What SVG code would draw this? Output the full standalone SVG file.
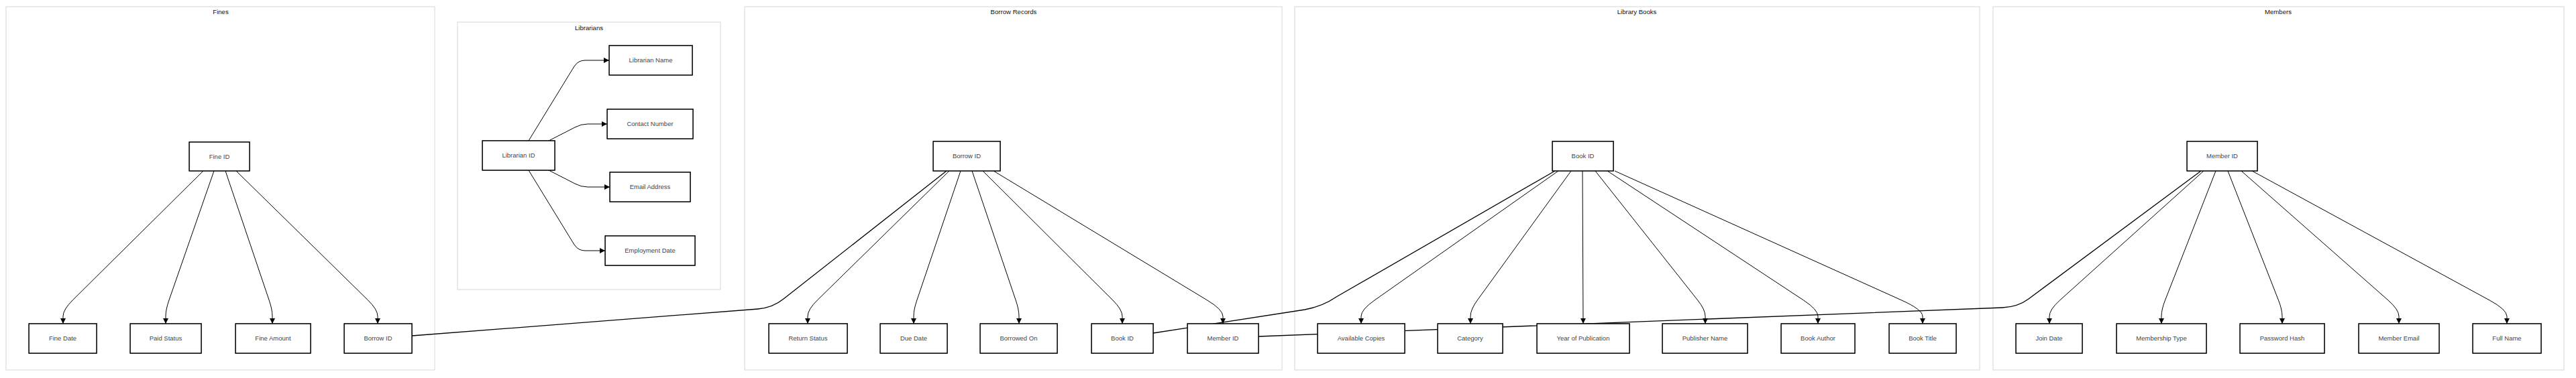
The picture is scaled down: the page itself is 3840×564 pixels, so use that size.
<svg xmlns="http://www.w3.org/2000/svg" width="3840" height="564" viewBox="0 0 3840 564">
<style>
.cl{fill:#ffffff;stroke:#e4e4e4;stroke-width:1.5}
.ct{font-family:"Liberation Sans",Arial,sans-serif;font-size:9.6px;fill:#111;text-anchor:middle}
.nb{fill:#ffffff;stroke:#000;stroke-width:1.4}
.nb2{fill:none;stroke:#000;stroke-width:0.5}
.nt{font-family:"Liberation Sans",Arial,sans-serif;font-size:9.5px;fill:#444;text-anchor:middle}
.e{fill:none;stroke:#000;stroke-width:1}
.ea{fill:none;stroke:#000;stroke-width:1;marker-end:url(#ah)}
.x{fill:none;stroke:#000;stroke-width:1.3}
</style>
<defs>
<marker id="ah" markerUnits="userSpaceOnUse" markerWidth="8" markerHeight="8" refX="8" refY="4" orient="auto">
<path d="M0,0 L8,4 L0,8 z" fill="#000"/>
</marker>
</defs>
<rect width="3840" height="564" fill="#ffffff"/>

<g id="cluster-fines"><rect class="cl" x="9" y="10" width="639" height="542"/><text class="ct" x="329" y="20.5">Fines</text></g>
<g id="cluster-librarians"><rect class="cl" x="682" y="33" width="392" height="399"/><text class="ct" x="878" y="44.5">Librarians</text></g>
<g id="cluster-borrow"><rect class="cl" x="1110" y="10" width="801" height="542"/><text class="ct" x="1511" y="20.5">Borrow Records</text></g>
<g id="cluster-books"><rect class="cl" x="1930" y="10" width="1021" height="542"/><text class="ct" x="2440" y="20.5">Library Books</text></g>
<g id="cluster-members"><rect class="cl" x="2971" y="10" width="851" height="542"/><text class="ct" x="3396" y="20.5">Members</text></g>

<g id="connectors">
<path class="ea" d="M303 255 L108.2 448 Q94 462 94 472 L94 483"/>
<path class="ea" d="M319 255 L251.9 448 Q247 462 247 472 L247 483"/>
<path class="ea" d="M336 255 L401.2 448 Q406 462 406 472 L406 483"/>
<path class="ea" d="M352 255 L548.7 448 Q563 462 563 472 L563 483"/>

<path class="ea" d="M788 210 L856 99 Q862 90 872 90 L908 90"/>
<path class="ea" d="M818 210 L857 190 Q866 185 876 185 L905 185"/>
<path class="ea" d="M818 254 L857 274 Q866 279 876 279 L909 279"/>
<path class="ea" d="M788 254 L856 365 Q862 374 872 374 L902 374"/>

<path class="ea" d="M1415 255 L1218.3 448 Q1204 462 1204 472 L1204 483"/>
<path class="ea" d="M1432 255 L1366.8 448 Q1362 462 1362 472 L1362 483"/>
<path class="ea" d="M1449 255 L1514.2 448 Q1519 462 1519 472 L1519 483"/>
<path class="ea" d="M1465 255 L1658.9 448 Q1673 462 1673 472 L1673 483"/>
<path class="ea" d="M1481 255 L1799.7 448 Q1823 462 1823 472 L1823 483"/>

<path class="ea" d="M2323 255 L2049 448 Q2029 462 2029 472 L2029 483"/>
<path class="ea" d="M2342 255 L2202.2 448 Q2192 462 2192 472 L2192 483"/>
<path class="ea" d="M2359 255 L2360 483"/>
<path class="ea" d="M2378 255 L2530.8 448 Q2542 462 2542 472 L2542 483"/>
<path class="ea" d="M2396 255 L2688.6 448 Q2710 462 2710 472 L2710 483"/>
<path class="ea" d="M2407 255 L2834.8 448 Q2866 462 2866 472 L2866 483"/>

<path class="ea" d="M3285 255 L3070.6 448 Q3055 462 3055 472 L3055 483"/>
<path class="ea" d="M3303 255 L3227.5 448 Q3222 462 3222 472 L3222 483"/>
<path class="ea" d="M3321 255 L3396.5 448 Q3402 462 3402 472 L3402 483"/>
<path class="ea" d="M3341 255 L3560 448 Q3576 462 3576 472 L3576 483"/>
<path class="ea" d="M3357 255 L3711.2 448 Q3737 462 3737 472 L3737 483"/>

<path class="x" d="M1411 255 L1168 446 Q1152 459 1130 461 L614 501"/>
<path class="x" d="M2318 255 L1992 443 Q1972 457 1945 462 L1719 497"/>
<path class="x" d="M3281 255 L3024 446 Q3008 458 2985 459 L1876 502"/>
</g>

<g id="n-fine-id"><rect class="nb" x="282" y="212" width="90" height="43"/><rect class="nb2" x="282.8" y="211.4" width="89.6" height="43.8"/><text class="nt" x="327" y="236.8">Fine ID</text></g>
<g id="n-fine-date"><rect class="nb" x="43" y="483" width="101" height="44"/><rect class="nb2" x="43.7" y="482.4" width="100.6" height="44.8"/><text class="nt" x="93.5" y="508.3">Fine Date</text></g>
<g id="n-paid-status"><rect class="nb" x="194" y="483" width="106" height="44"/><rect class="nb2" x="194.7" y="482.4" width="105.6" height="44.8"/><text class="nt" x="247" y="508.3">Paid Status</text></g>
<g id="n-fine-amount"><rect class="nb" x="351" y="483" width="112" height="44"/><rect class="nb2" x="351.7" y="482.4" width="111.6" height="44.8"/><text class="nt" x="407" y="508.3">Fine Amount</text></g>
<g id="n-fines-borrow-id"><rect class="nb" x="513" y="483" width="101" height="44"/><rect class="nb2" x="513.7" y="482.4" width="100.6" height="44.8"/><text class="nt" x="563.5" y="508.3">Borrow ID</text></g>

<g id="n-librarian-id"><rect class="nb" x="719" y="210" width="108" height="44"/><rect class="nb2" x="719.7" y="209.4" width="107.6" height="44.8"/><text class="nt" x="773" y="235.3">Librarian ID</text></g>
<g id="n-librarian-name"><rect class="nb" x="908" y="68" width="124" height="44"/><rect class="nb2" x="908.7" y="67.4" width="123.6" height="44.8"/><text class="nt" x="970" y="93.3">Librarian Name</text></g>
<g id="n-contact-number"><rect class="nb" x="905" y="163" width="128" height="44"/><rect class="nb2" x="905.7" y="162.4" width="127.6" height="44.8"/><text class="nt" x="969" y="188.3">Contact Number</text></g>
<g id="n-email-address"><rect class="nb" x="909" y="257" width="120" height="44"/><rect class="nb2" x="909.7" y="256.4" width="119.6" height="44.8"/><text class="nt" x="969" y="282.3">Email Address</text></g>
<g id="n-employment-date"><rect class="nb" x="902" y="352" width="134" height="44"/><rect class="nb2" x="902.7" y="351.4" width="133.6" height="44.8"/><text class="nt" x="969" y="377.3">Employment Date</text></g>

<g id="n-borrow-id"><rect class="nb" x="1391" y="211" width="100" height="44"/><rect class="nb2" x="1391.7" y="210.4" width="99.6" height="44.8"/><text class="nt" x="1441" y="236.3">Borrow ID</text></g>
<g id="n-return-status"><rect class="nb" x="1146" y="483" width="117" height="44"/><rect class="nb2" x="1146.7" y="482.4" width="116.6" height="44.8"/><text class="nt" x="1204.5" y="508.3">Return Status</text></g>
<g id="n-due-date"><rect class="nb" x="1312" y="483" width="100" height="44"/><rect class="nb2" x="1312.7" y="482.4" width="99.6" height="44.8"/><text class="nt" x="1362" y="508.3">Due Date</text></g>
<g id="n-borrowed-on"><rect class="nb" x="1461" y="483" width="115" height="44"/><rect class="nb2" x="1461.7" y="482.4" width="114.6" height="44.8"/><text class="nt" x="1518.5" y="508.3">Borrowed On</text></g>
<g id="n-borrow-book-id"><rect class="nb" x="1627" y="483" width="92" height="44"/><rect class="nb2" x="1627.7" y="482.4" width="91.6" height="44.8"/><text class="nt" x="1673" y="508.3">Book ID</text></g>
<g id="n-borrow-member-id"><rect class="nb" x="1770" y="483" width="106" height="44"/><rect class="nb2" x="1770.7" y="482.4" width="105.6" height="44.8"/><text class="nt" x="1823" y="508.3">Member ID</text></g>

<g id="n-book-id"><rect class="nb" x="2314" y="211" width="91" height="44"/><rect class="nb2" x="2314.7" y="210.4" width="90.6" height="44.8"/><text class="nt" x="2359.5" y="236.3">Book ID</text></g>
<g id="n-available-copies"><rect class="nb" x="1964" y="483" width="130" height="44"/><rect class="nb2" x="1964.7" y="482.4" width="129.6" height="44.8"/><text class="nt" x="2029" y="508.3">Available Copies</text></g>
<g id="n-category"><rect class="nb" x="2143" y="483" width="97" height="44"/><rect class="nb2" x="2143.7" y="482.4" width="96.6" height="44.8"/><text class="nt" x="2191.5" y="508.3">Category</text></g>
<g id="n-year-of-publication"><rect class="nb" x="2291" y="483" width="138" height="44"/><rect class="nb2" x="2291.7" y="482.4" width="137.6" height="44.8"/><text class="nt" x="2360" y="508.3">Year of Publication</text></g>
<g id="n-publisher-name"><rect class="nb" x="2478" y="483" width="127" height="44"/><rect class="nb2" x="2478.7" y="482.4" width="126.6" height="44.8"/><text class="nt" x="2541.5" y="508.3">Publisher Name</text></g>
<g id="n-book-author"><rect class="nb" x="2655" y="483" width="110" height="44"/><rect class="nb2" x="2655.7" y="482.4" width="109.6" height="44.8"/><text class="nt" x="2710" y="508.3">Book Author</text></g>
<g id="n-book-title"><rect class="nb" x="2816" y="483" width="100" height="44"/><rect class="nb2" x="2816.7" y="482.4" width="99.6" height="44.8"/><text class="nt" x="2866" y="508.3">Book Title</text></g>

<g id="n-member-id"><rect class="nb" x="3260" y="211" width="105" height="44"/><rect class="nb2" x="3260.7" y="210.4" width="104.6" height="44.8"/><text class="nt" x="3312.5" y="236.3">Member ID</text></g>
<g id="n-join-date"><rect class="nb" x="3005" y="483" width="99" height="44"/><rect class="nb2" x="3005.7" y="482.4" width="98.6" height="44.8"/><text class="nt" x="3054.5" y="508.3">Join Date</text></g>
<g id="n-membership-type"><rect class="nb" x="3155" y="483" width="134" height="44"/><rect class="nb2" x="3155.7" y="482.4" width="133.6" height="44.8"/><text class="nt" x="3222" y="508.3">Membership Type</text></g>
<g id="n-password-hash"><rect class="nb" x="3339" y="483" width="126" height="44"/><rect class="nb2" x="3339.7" y="482.4" width="125.6" height="44.8"/><text class="nt" x="3402" y="508.3">Password Hash</text></g>
<g id="n-member-email"><rect class="nb" x="3516" y="483" width="120" height="44"/><rect class="nb2" x="3516.7" y="482.4" width="119.6" height="44.8"/><text class="nt" x="3576" y="508.3">Member Email</text></g>
<g id="n-full-name"><rect class="nb" x="3686" y="483" width="102" height="44"/><rect class="nb2" x="3686.7" y="482.4" width="101.6" height="44.8"/><text class="nt" x="3737" y="508.3">Full Name</text></g>
</svg>
